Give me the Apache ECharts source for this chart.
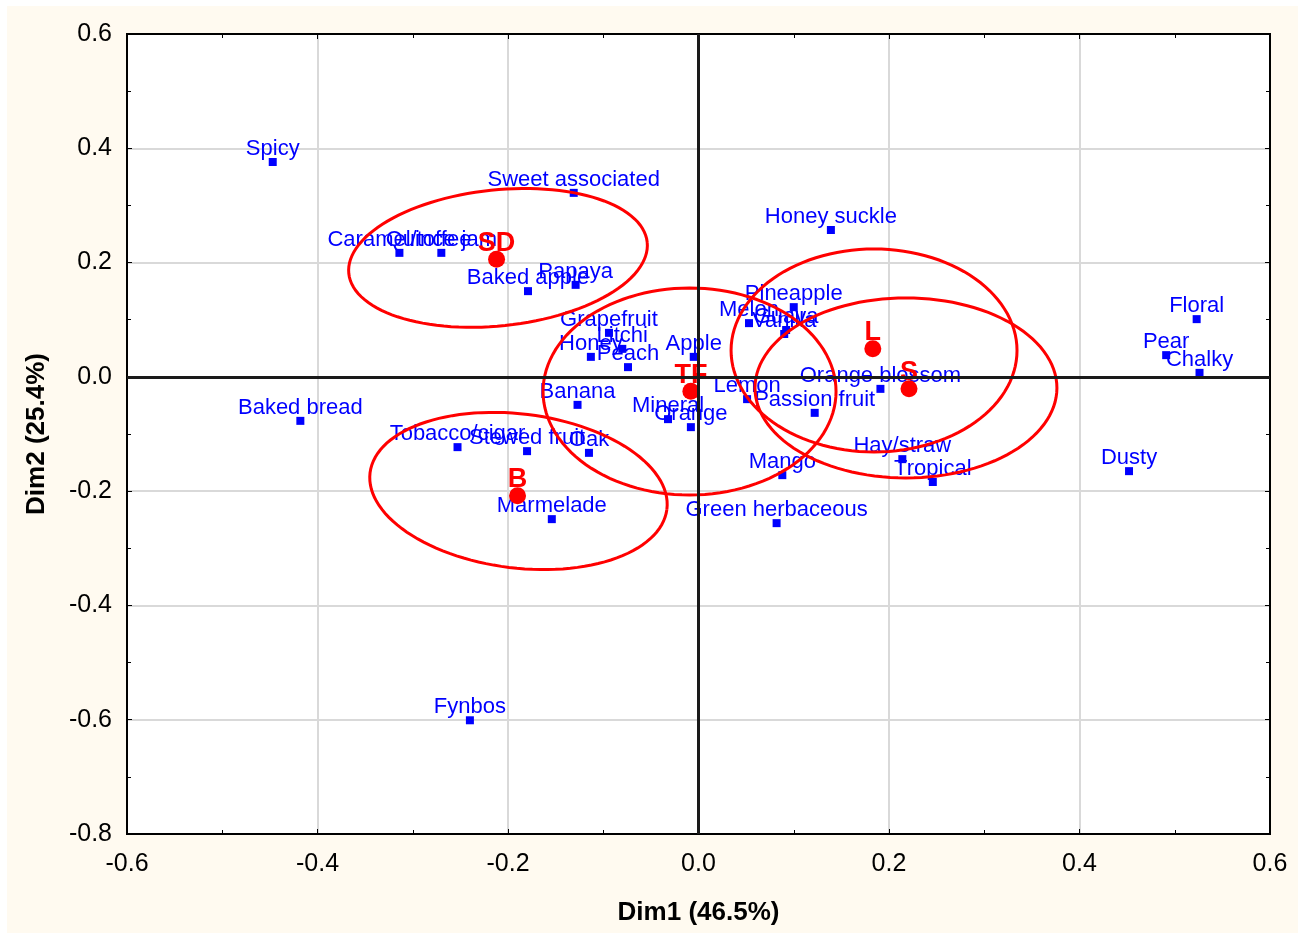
<!DOCTYPE html>
<html>
<head>
<meta charset="utf-8">
<script src="https://cdn.jsdelivr.net/npm/echarts@6/dist/echarts.min.js"></script>
<style>
  html, body { margin: 0; padding: 0; background: #ffffff; }
  #chart { position: absolute; left: 7px; top: 6px; width: 1291px; height: 927px; }
</style>
</head>
<body>
<div id="chart"></div>
<script>
// ---- Data ----
const attrNames = ['Spicy','Sweet associated','Honey suckle','Caramel/toffee','Quince jam','Baked apple','Papaya',
  'Grapefruit','Litchi','Honey','Peach','Apple','Banana','Mineral','Orange','Oak','Tobacco/cigar','Stewed fruit',
  'Marmelade','Baked bread','Fynbos','Melon','Pineapple','Guava','Vanilla','Lemon','Passion fruit','Orange blossom',
  'Hay/straw','Tropical','Mango','Green herbaceous','Floral','Pear','Chalky','Dusty'];
const attrDim1 = [-0.447,-0.131,0.139,-0.314,-0.270,-0.179,-0.129,
  -0.094,-0.080,-0.113,-0.074,-0.005,-0.127,-0.032,-0.008,-0.115,-0.253,-0.180,
  -0.154,-0.418,-0.240,0.053,0.100,0.092,0.090,0.051,0.122,0.191,
  0.214,0.246,0.088,0.082,0.523,0.491,0.526,0.452];
const attrDim2 = [0.376,0.322,0.257,0.217,0.217,0.150,0.161,
  0.077,0.049,0.035,0.017,0.035,-0.049,-0.074,-0.088,-0.133,-0.123,-0.130,
  -0.249,-0.077,-0.601,0.094,0.122,0.082,0.075,-0.039,-0.063,-0.021,
  -0.144,-0.184,-0.172,-0.256,0.101,0.038,0.007,-0.165];

const sampleNames = ['SD','L','S','TF','B'];
const sampleDim1 = [-0.212,0.183,0.221,-0.008,-0.190];
const sampleDim2 = [0.206,0.049,-0.021,-0.025,-0.208];

// confidence ellipses: centre, half-width (Dim1 units), half-height (Dim2 units), tilt (deg)
const ellipseNames = ['SD','B','TF','L','S'];
const ellipseCx = [-0.2105,-0.1890,-0.0094,0.1843,0.2178];
const ellipseCy = [0.2082,-0.1997,-0.0256,0.0462,-0.0194];
const ellipseRx = [0.1575,0.1570,0.1538,0.1501,0.1585];
const ellipseRy = [0.1190,0.1348,0.1811,0.1776,0.1575];
const ellipseTilt = [6,-7,0,0,0];

const xTicks = { min: -0.6, max: 0.6, interval: 0.2 };
const yTicks = { min: -0.8, max: 0.6, interval: 0.2 };

// ---- Chart ----
const FONT = '"Liberation Sans", Arial, sans-serif';
const fmt = v => (Math.abs(v) < 1e-9 ? '0.0' : v.toFixed(1));

const chart = echarts.init(document.getElementById('chart'), null, { renderer: 'canvas' });

const attrData = attrNames.map((n, i) => ({ name: n, value: [attrDim1[i], attrDim2[i]] }));
const sampleData = sampleNames.map((n, i) => ({ name: n, value: [sampleDim1[i], sampleDim2[i]] }));
const ellipseData = ellipseNames.map((n, i) => ({ name: n,
  value: [ellipseCx[i], ellipseCy[i], ellipseRx[i], ellipseRy[i], ellipseTilt[i]] }));

const axisCommon = {
  axisLine: { show: true, onZero: false, lineStyle: { color: '#000', width: 2 } },
  axisTick: { show: true, inside: true, length: 5, lineStyle: { color: '#000', width: 1 } },
  minorTick: { show: true, splitNumber: 2, length: 4, lineStyle: { color: '#000', width: 1 } },
};

chart.setOption({
  backgroundColor: '#FFFAF0',
  animation: false,
  textStyle: { fontFamily: FONT },
  grid: { left: 120, right: 28, top: 28, bottom: 99, show: true, backgroundColor: '#ffffff',
          borderColor: '#000', borderWidth: 2 },
  xAxis: [
    Object.assign({
      type: 'value', position: 'bottom', min: xTicks.min, max: xTicks.max, interval: xTicks.interval,
      name: 'Dim1 (46.5%)', nameLocation: 'middle', nameGap: 66,
      nameTextStyle: { fontSize: 26, fontWeight: 'bold', color: '#000', fontFamily: FONT },
      axisLabel: { fontSize: 25, color: '#000', margin: 18, formatter: fmt, fontFamily: FONT },
      splitLine: { show: true, lineStyle: { color: '#d9d9d9', width: 2 } },
    }, axisCommon),
    Object.assign({
      type: 'value', position: 'top', min: xTicks.min, max: xTicks.max, interval: xTicks.interval,
      axisLabel: { show: false }, splitLine: { show: false },
    }, axisCommon)
  ],
  yAxis: [
    Object.assign({
      type: 'value', position: 'left', min: yTicks.min, max: yTicks.max, interval: yTicks.interval,
      name: 'Dim2 (25.4%)', nameLocation: 'middle', nameGap: 77, nameRotate: 90,
      nameTextStyle: { fontSize: 26, fontWeight: 'bold', color: '#000', fontFamily: FONT },
      axisLabel: { fontSize: 25, color: '#000', margin: 15, formatter: fmt, fontFamily: FONT },
      splitLine: { show: true, lineStyle: { color: '#d9d9d9', width: 2 } },
    }, axisCommon),
    Object.assign({
      type: 'value', position: 'right', min: yTicks.min, max: yTicks.max, interval: yTicks.interval,
      axisLabel: { show: false }, splitLine: { show: false },
    }, axisCommon)
  ],
  series: [
    {
      type: 'scatter', data: [], z: 1, silent: true,
      markLine: {
        silent: true, symbol: 'none', animation: false,
        label: { show: false },
        lineStyle: { color: '#1a1a1a', width: 3, type: 'solid', opacity: 1 },
        data: [{ xAxis: 0 }, { yAxis: 0 }]
      }
    },
    {
      type: 'scatter', name: 'attributes', z: 2,
      data: attrData, symbol: 'rect', symbolSize: 8,
      itemStyle: { color: '#0000FF', opacity: 1 },
      label: { show: true, position: 'top', distance: -2, formatter: p => p.name,
               color: '#0000FF', fontSize: 22, fontFamily: FONT }
    },
    {
      type: 'custom', name: 'ellipses', z: 3, coordinateSystem: 'cartesian2d',
      data: ellipseData, encode: { x: 0, y: 1 },
      renderItem: function (params, api) {
        const c = api.coord([api.value(0), api.value(1)]);
        const s = api.size([api.value(2), api.value(3)]);
        const th = api.value(4) * Math.PI / 180;
        const pts = [];
        const N = 120;
        for (let k = 0; k <= N; k++) {
          const t = 2 * Math.PI * k / N;
          const ex = s[0] * Math.cos(t), ey = s[1] * Math.sin(t);
          pts.push([c[0] + ex * Math.cos(th) + ey * Math.sin(th),
                    c[1] - ex * Math.sin(th) + ey * Math.cos(th)]);
        }
        return { type: 'polyline', shape: { points: pts },
                 style: { fill: null, stroke: '#FF0000', lineWidth: 3 } };
      }
    },
    {
      type: 'scatter', name: 'samples', z: 4,
      data: sampleData, symbol: 'circle', symbolSize: 17,
      itemStyle: { color: '#FF0000', opacity: 1 },
      label: { show: true, position: 'top', distance: -6, formatter: p => p.name,
               color: '#FF0000', fontSize: 27, fontWeight: 'bold', fontFamily: FONT }
    }
  ]
});
</script>
</body>
</html>
